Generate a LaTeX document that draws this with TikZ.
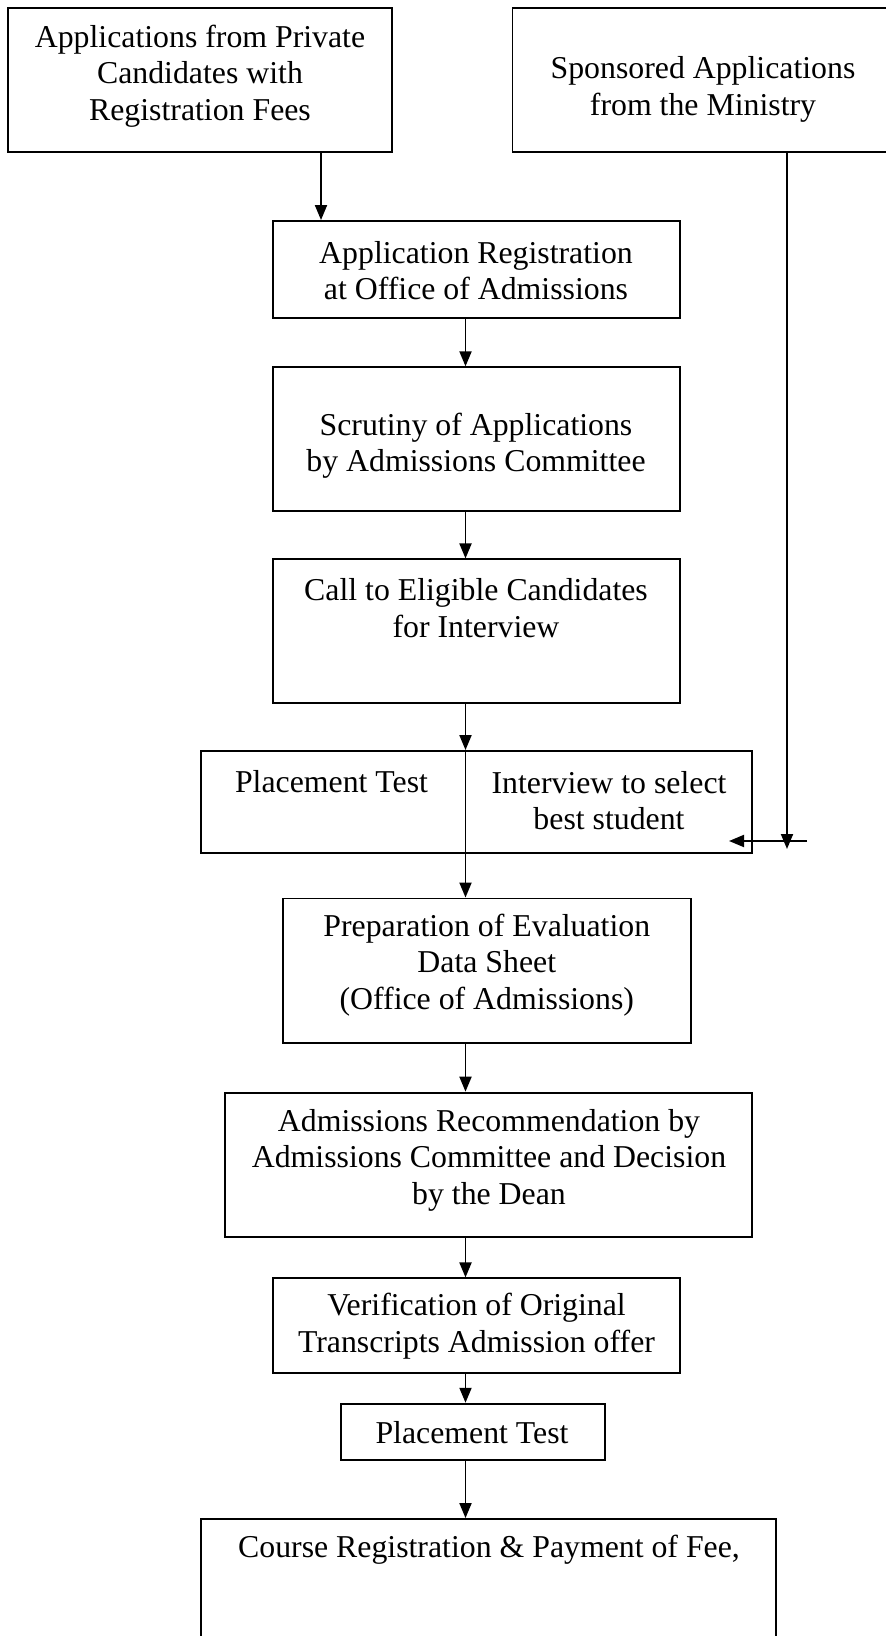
\documentclass[tikz,border=0pt]{standalone}
\usepackage{fontspec}
\setmainfont{Liberation Serif}
\usetikzlibrary{arrows.meta,fit}
\begin{document}
\begin{tikzpicture}[x=0.5pt,y=-0.5pt,
  box/.style={draw,line width=0.95pt,inner sep=0pt,fill=none},
  txt/.style={align=center,font=\fontsize{15.9}{18.2}\selectfont,inner sep=0pt},
  arr/.style={line width=0.95pt,-{Triangle[length=7.5pt,width=6pt]}},
  ln/.style={line width=0.95pt}]
\useasboundingbox (0,0) rectangle (886,1636);
\clip (0,0) rectangle (886,1636);
% boxes
\node[box,fit={(8.3,8.3) (392.4,152.4)}] (b1) {};
\node[box,fit={(512.5,8.3) (895,152.4)}] (b2) {};
\node[box,fit={(273.4,221) (680.4,318)}] (b3) {};
\node[box,fit={(273.4,367.3) (680.4,511.4)}] (b4) {};
\node[box,fit={(273.4,559.4) (680.4,703.4)}] (b5) {};
\node[box,fit={(201,751) (752.4,852.7)}] (b6) {};
\node[box,fit={(282.8,898.5) (690.9,1042.6)}] (b7) {};
\node[box,fit={(225.4,1092.6) (752.4,1236.7)}] (b8) {};
\node[box,fit={(273.4,1278.4) (680.4,1373.4)}] (b9) {};
\node[box,fit={(341,1403.7) (605,1460)}] (b10) {};
\node[box,fit={(201,1519) (776,1700)}] (b11) {};
% texts
\node[txt] (t1) at (200,76) {Applications from Private\\Candidates with\\Registration Fees};
\node[txt] (t2) at (703,89.5) {Sponsored Applications\\from the Ministry};
\node[txt] (t3) at (476,270.5) {Application Registration\\at Office of Admissions};
\node[txt] (t4) at (476,446) {Scrutiny of Applications\\by Admissions Committee};
\node[txt] (t5) at (476,608) {Call to Eligible Candidates\\for Interview};
\node[txt] (t6a) at (331.5,781.7) {Placement Test};
\node[txt] (t6b) at (609,800.8) {Interview to select\\best student};
\node[txt] (t7) at (486.8,965) {Preparation of Evaluation\\Data Sheet\\(Office of Admissions)};
\node[txt] (t8) at (489,1160) {Admissions Recommendation by\\Admissions Committee and Decision\\by the Dean};
\node[txt] (t9) at (476.5,1326) {Verification of Original\\Transcripts Admission offer};
\node[txt] (t10) at (472,1433) {Placement Test};
\node[txt] (t11) at (489,1550) {Course Registration \& Payment of Fee,};
% connectors
\coordinate (xa) at (321,0);
\coordinate (xs) at (465.5,0);
\coordinate (xm) at (787,0);
\draw[arr] (b1.south -| xa) -- (b3.north -| xa);
\draw[arr] (b3.south -| xs) -- (b4.north -| xs);
\draw[arr] (b4.south -| xs) -- (b5.north -| xs);
\draw[arr] (b5.south -| xs) -- (b6.north -| xs);
\draw[ln] (b6.north -| xs) -- (b6.south -| xs);
\draw[arr] (b6.south -| xs) -- (b7.north -| xs);
\draw[arr] (b7.south -| xs) -- (b8.north -| xs);
\draw[arr] (b8.south -| xs) -- (b9.north -| xs);
\draw[arr] (b9.south -| xs) -- (b10.north -| xs);
\draw[arr] (b10.south -| xs) -- (b11.north -| xs);
\coordinate (m1) at (787,849);
\coordinate (h1) at (807,841);
\coordinate (h2) at (729,841);
\draw[arr] (b2.south -| xm) -- (m1);
\draw[arr] (h1) -- (h2);
\end{tikzpicture}
\end{document}
